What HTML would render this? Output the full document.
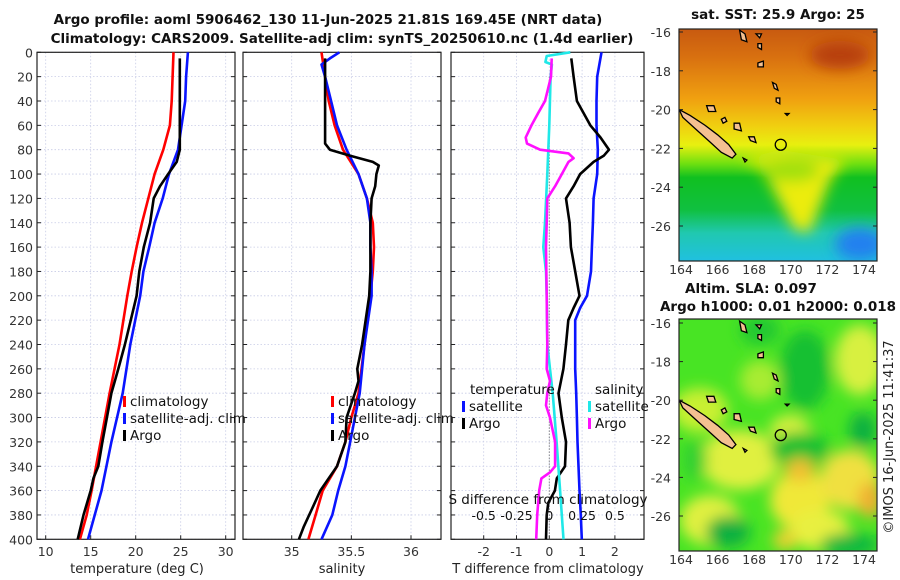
<!DOCTYPE html>
<html><head><meta charset="utf-8"><style>
body{margin:0;background:#fff}
svg{display:block;font-family:"DejaVu Sans","Liberation Sans",sans-serif}
</style></head><body>
<svg id="fig" width="900" height="580" viewBox="0 0 900 580">
<defs>
<filter id="blur6"><feGaussianBlur stdDeviation="7"/></filter>
<clipPath id="clipTop"><rect x="679" y="29" width="198" height="232"/></clipPath>
<clipPath id="clipBot"><rect x="679" y="319" width="198" height="232"/></clipPath>
<linearGradient id="sstGrad" x1="0" y1="0" x2="0" y2="1">
<stop offset="0" stop-color="#c85a10"/><stop offset="0.12" stop-color="#d87010"/>
<stop offset="0.3" stop-color="#f0a010"/><stop offset="0.42" stop-color="#f0d010"/>
<stop offset="0.5" stop-color="#e8f010"/><stop offset="0.58" stop-color="#70e010"/>
<stop offset="0.64" stop-color="#10c020"/><stop offset="0.78" stop-color="#10c040"/>
<stop offset="0.88" stop-color="#20c8b0"/><stop offset="1" stop-color="#20c0e0"/>
</linearGradient>
</defs>
<g font-weight="bold" font-size="13.5" text-anchor="middle" fill="#111">
<text x="328" y="24">Argo profile: aoml 5906462_130 11-Jun-2025 21.81S 169.45E (NRT data)</text>
<text x="342" y="43">Climatology: CARS2009. Satellite-adj clim: synTS_20250610.nc (1.4d earlier)</text>
</g>
<g id="panels"></g>
<g id="maps"></g>
<text transform="translate(893,437) rotate(-90)" text-anchor="middle" font-size="13" fill="#222">©IMOS 16-Jun-2025 11:41:37</text>
</svg>
<script>
// ---------- DATA ----------
const depthTicks = [0,20,40,60,80,100,120,140,160,180,200,220,240,260,280,300,320,340,360,380,400];
const tempTicks = [10,15,20,25,30];
const salTicks = [35,35.5,36];
const tdiffTicks = [-2,-1,0,1,2];
const sdiffTicks = [-0.5,-0.25,0,0.25,0.5];
const sdiffTickLabels = ['-0.5','-0.25','0','0.25','0.5'];

const climTdepth = [0,40,60,80,100,120,140,160,180,200,240,280,320,360,380,400];
const climT = [24.2,24.0,23.8,23.07,22.1,21.4,20.7,20.1,19.55,19.07,18.2,17.1,16.1,15.1,14.55,13.8];
const satTdepth = [0,20,40,60,80,100,120,140,160,180,200,240,280,320,360,400];
const satT = [25.8,25.6,25.5,25.1,24.7,23.7,23.0,22.1,21.5,20.85,20.5,19.4,18.55,17.3,16.2,14.7];
const argoTdepth = [5,40,60,80,90,100,110,120,140,160,180,200,240,260,280,300,320,340,350,360,380,400];
const argoT = [24.9,24.9,24.9,24.9,24.55,23.6,22.7,22.0,21.6,20.9,20.4,20.1,18.8,18.07,17.3,16.8,16.3,15.85,15.3,15.0,14.2,13.55];

const climSdepth = [0,20,40,60,80,100,120,140,160,180,200,240,280,300,320,340,360,380,400];
const climS = [35.25,35.28,35.31,35.36,35.43,35.56,35.63,35.68,35.69,35.68,35.66,35.61,35.56,35.50,35.45,35.38,35.26,35.2,35.14];
const satSdepth = [0,5,10,20,40,60,80,100,120,140,160,180,200,240,280,300,320,340,360,380,400];
const satS = [35.40,35.32,35.25,35.28,35.33,35.38,35.46,35.56,35.63,35.66,35.66,35.67,35.67,35.61,35.57,35.53,35.49,35.45,35.39,35.34,35.25];
const argoSdepth = [5,20,40,60,75,80,85,90,93,100,110,120,140,180,200,240,260,270,280,300,320,340,350,360,375,390,400];
const argoS = [35.28,35.28,35.28,35.28,35.28,35.32,35.49,35.68,35.73,35.71,35.70,35.67,35.66,35.66,35.65,35.59,35.55,35.56,35.53,35.46,35.45,35.38,35.31,35.24,35.17,35.1,35.06];

const satTdiffDepth = [0,20,40,60,80,100,120,140,160,180,200,210,220,240,260,280,300,320,340,360,380,400];
const satTdiff = [1.59,1.46,1.44,1.44,1.48,1.46,1.35,1.33,1.30,1.27,1.15,0.94,0.79,0.79,0.79,0.82,0.84,0.86,0.89,0.92,0.96,0.99];
const argoTdiffDepth = [5,20,40,60,70,80,85,90,100,110,120,140,160,180,200,210,220,240,260,280,300,320,340,350,360,370,380,400];
const argoTdiff = [0.67,0.74,0.84,1.25,1.56,1.82,1.66,1.35,0.94,0.74,0.51,0.62,0.66,0.79,0.92,0.74,0.58,0.51,0.43,0.28,0.38,0.51,0.48,0.23,0.17,-0.03,-0.08,-0.1];
const satSdiffDepth = [0,3,8,10,20,60,100,140,160,180,200,240,280,320,360,400];
const satSdiff = [0.16,-0.02,-0.03,0.02,0.01,0,-0.015,-0.033,-0.046,-0.025,-0.02,-0.015,0.026,0.056,0.082,0.108];
const argoSdiffDepth = [5,20,40,50,60,70,75,80,83,87,90,100,110,120,140,160,200,240,260,270,280,290,300,320,340,345,350,360,380,400];
const argoSdiff = [0.018,0.013,-0.033,-0.085,-0.136,-0.18,-0.17,-0.07,0.146,0.185,0.146,0.095,0.044,-0.015,-0.02,-0.025,-0.02,-0.015,-0.02,0.005,-0.015,-0.025,0.005,0.044,0.044,0.005,-0.06,-0.077,-0.092,-0.1];

const lonTicks = [164,166,168,170,172,174];
const latTicks = [-16,-18,-20,-22,-24,-26];
const argoLon = 169.45, argoLat = -21.81;

// ---------- HELPERS ----------
const NS='http://www.w3.org/2000/svg';
function mk(tag, attrs, parent){const e=document.createElementNS(NS,tag);for(const k in attrs)e.setAttribute(k,attrs[k]);parent.appendChild(e);return e;}
const Y0=52.3, YS=1.2175;
const yD = d => Y0 + d*YS;
const panelsG=document.getElementById('panels');

function panel(name,x0,x1,xf,ticks,tickLabels){
  const g=mk('g',{},panelsG);
  
  
  depthTicks.forEach(d=>{
    const l=mk('line',{x1:x0,x2:x1,y1:yD(d),y2:yD(d),stroke:'#c8cce6','stroke-width':0.8,'stroke-dasharray':'1.5,2'},g);
    
    
  });
  ticks.forEach((t,i)=>{
    const x=xf(t);
    const l=mk('line',{x1:x,x2:x,y1:yD(0),y2:yD(400),stroke:'#c8cce6','stroke-width':0.8,'stroke-dasharray':'1.5,2'},g);
    
    
    const tk=mk('line',{x1:x,x2:x,y1:yD(400),y2:yD(400)-4,stroke:'#222'},g);
    
    
    const tx=mk('text',{x:x,y:556,'text-anchor':'middle','font-size':12.5,fill:'#333'},g);
    tx.textContent=tickLabels?tickLabels[i]:String(t);
    
    
  });
  depthTicks.forEach(d=>{
    const t1=mk('line',{x1:x0,x2:x0+4,y1:yD(d),y2:yD(d),stroke:'#222'},g);
    
    
    const t2=mk('line',{x1:x1-4,x2:x1,y1:yD(d),y2:yD(d),stroke:'#222'},g);
    
    
  });
  const fr=mk('rect',{x:x0,y:yD(0),width:x1-x0,height:yD(400)-yD(0),fill:'none',stroke:'#222','stroke-width':1.2},g);
  
  
  return g;
}
function series(g,name,depths,vals,xf,color){
  const pts=depths.map((d,i)=>xf(vals[i]).toFixed(1)+','+yD(d).toFixed(1)).join(' ');
  const p=mk('polyline',{points:pts,fill:'none',stroke:color,'stroke-width':2.6,'stroke-linejoin':'round'},g);
  
  
}
function legend(g,name,x,y,items){
  const lg=mk('g',{},g);
  
  
  items.forEach((it,i)=>{
    const yy=y+i*17;
    mk('rect',{x:x,y:yy-10,width:3,height:11,fill:it[1]},lg);
    const t=mk('text',{x:x+7,y:yy,'font-size':13.5,fill:'#111'},lg);
    t.textContent=it[0];
    
    
  });
}

depthTicks.forEach(d=>{
  const t=mk('text',{x:33,y:yD(d)+5,'text-anchor':'end','font-size':12.5,fill:'#333'},panelsG);
  t.textContent=String(d);
  
  
});

// Panel 1 temperature
const xT = v => 45.7 + (v-10)*9.0;
const g1=panel('temperature-panel',37,235,xT,tempTicks);
series(g1,'climatology-temperature-line',climTdepth,climT,xT,'#ff0000');
series(g1,'satellite-temperature-line',satTdepth,satT,xT,'#0a14ff');
series(g1,'argo-temperature-line',argoTdepth,argoT,xT,'#000');
legend(g1,'temperature-legend',123,406,[['climatology','#ff0000'],['satellite-adj. clim','#0a14ff'],['Argo','#000']]);
let tt=mk('text',{x:137,y:573,'text-anchor':'middle','font-size':13,fill:'#222'},g1);tt.textContent='temperature (deg C)';



// Panel 2 salinity
const xS = v => 291.7 + (v-35)*119.3;
const g2=panel('salinity-panel',243,441,xS,salTicks);
series(g2,'climatology-salinity-line',climSdepth,climS,xS,'#ff0000');
series(g2,'satellite-salinity-line',satSdepth,satS,xS,'#0a14ff');
series(g2,'argo-salinity-line',argoSdepth,argoS,xS,'#000');
legend(g2,'salinity-legend',331,406,[['climatology','#ff0000'],['satellite-adj. clim','#0a14ff'],['Argo','#000']]);
tt=mk('text',{x:342,y:573,'text-anchor':'middle','font-size':13,fill:'#222'},g2);tt.textContent='salinity';



// Panel 3 differences
const xTd = v => 549.3 + v*32.8;
const xSd = v => 549.3 + v*131.2;
const g3=panel('difference-panel',451,644,xTd,tdiffTicks);
const zl=mk('line',{x1:xTd(0),x2:xTd(0),y1:yD(20),y2:yD(400),stroke:'#555','stroke-width':1,'stroke-dasharray':'1,2'},g3);


series(g3,'satellite-temperature-diff-line',satTdiffDepth,satTdiff,xTd,'#0a14ff');
series(g3,'argo-temperature-diff-line',argoTdiffDepth,argoTdiff,xTd,'#000');
series(g3,'satellite-salinity-diff-line',satSdiffDepth,satSdiff,xSd,'#20e8e8');
series(g3,'argo-salinity-diff-line',argoSdiffDepth,argoSdiff,xSd,'#ff10ff');
let lt=mk('text',{x:470,y:394,'font-size':13.5,fill:'#111'},g3);lt.textContent='temperature';


lt=mk('text',{x:595,y:394,'font-size':13.5,fill:'#111'},g3);lt.textContent='salinity';


legend(g3,'temperature-diff-legend',462,411,[['satellite','#0a14ff'],['Argo','#000']]);
legend(g3,'salinity-diff-legend',588,411,[['satellite','#20e8e8'],['Argo','#ff10ff']]);
lt=mk('text',{x:548,y:504,'text-anchor':'middle','font-size':13.5,fill:'#111'},g3);lt.textContent='S difference from climatology';


sdiffTicks.forEach((s,i)=>{
  const t=mk('text',{x:xSd(s),y:520,'text-anchor':'middle','font-size':12.5,fill:'#111'},g3);
  t.textContent=sdiffTickLabels[i];
  
  
});
lt=mk('text',{x:548,y:573,'text-anchor':'middle','font-size':13,fill:'#222'},g3);lt.textContent='T difference from climatology';



// ---------- MAPS ----------
const mapsG=document.getElementById('maps');
const lx = lon => 681 + (lon-164)*18.3;
const islands=[
 [[163.9,-20.0],[164.5,-20.3],[165.3,-20.8],[166.0,-21.3],[166.6,-21.8],[167.0,-22.3],[166.8,-22.5],[166.2,-22.2],[165.5,-21.6],[164.8,-21.0],[164.1,-20.4]],
 [[165.4,-19.8],[165.8,-19.8],[165.9,-20.1],[165.5,-20.1]],
 [[166.9,-20.7],[167.2,-20.7],[167.3,-21.1],[166.9,-21.0]],
 [[167.7,-21.4],[168.0,-21.4],[168.1,-21.7],[167.8,-21.6]],
 [[166.2,-20.5],[166.4,-20.4],[166.5,-20.6],[166.3,-20.7]],
 [[167.2,-15.9],[167.5,-16.1],[167.6,-16.5],[167.3,-16.4]],
 [[168.1,-16.1],[168.4,-16.1],[168.3,-16.3]],
 [[168.2,-16.6],[168.4,-16.6],[168.4,-16.9],[168.2,-16.8]],
 [[168.2,-17.6],[168.5,-17.5],[168.5,-17.8],[168.2,-17.8]],
 [[169.0,-18.6],[169.2,-18.7],[169.3,-19.0],[169.1,-18.9]],
 [[169.2,-19.4],[169.4,-19.4],[169.4,-19.7],[169.2,-19.6]],
 [[169.7,-20.2],[169.9,-20.2],[169.8,-20.3]],
 [[167.4,-22.5],[167.6,-22.6],[167.5,-22.7]]
];
function map(name,top,ly,clipId,fillFn,titles){
  const g=mk('g',{},mapsG);
  
  
  const inner=mk('g',{'clip-path':'url(#'+clipId+')'},g);
  fillFn(inner,top);
  islands.forEach(poly=>{
    const pts=poly.map(p=>lx(p[0]).toFixed(1)+','+ly(p[1]).toFixed(1)).join(' ');
    const p=mk('polygon',{points:pts,fill:'#f4c090',stroke:'#000','stroke-width':1.3},inner);
    
    
  });
  const c=mk('circle',{cx:lx(argoLon),cy:ly(argoLat),r:5.5,fill:'none',stroke:'#000','stroke-width':1.3},inner);
  
  
  const fr=mk('rect',{x:679,y:top,width:198,height:232,fill:'none',stroke:'#222','stroke-width':1.2},g);
  
  
  latTicks.forEach(la=>{
    const t=mk('text',{x:671,y:ly(la)+5,'text-anchor':'end','font-size':12.5,fill:'#333'},g);
    t.textContent=String(la);
    
    
    mk('line',{x1:679,x2:683,y1:ly(la),y2:ly(la),stroke:'#222'},g);
    mk('line',{x1:873,x2:877,y1:ly(la),y2:ly(la),stroke:'#222'},g);
  });
  lonTicks.forEach(lo=>{
    const t=mk('text',{x:lx(lo),y:top+245,'text-anchor':'middle','font-size':12.5,fill:'#333'},g);
    t.textContent=String(lo);
    
    
  });
  titles.forEach(tl=>{
    const t=mk('text',{x:tl[1],y:tl[2],'text-anchor':'middle','font-size':13.5,'font-weight':'bold',fill:'#111'},g);
    t.textContent=tl[0];
    
    
  });
}
const lyTop = la => 32 + (-16-la)*19.4;
const lyBot = la => 323 + (-16-la)*19.3;
map('sst-map',29,lyTop,'clipTop',(g,top)=>{
  mk('rect',{x:679,y:top,width:198,height:232,fill:'url(#sstGrad)'},g);
  const b=mk('g',{filter:'url(#blur6)'},g);
  mk('path',{d:'M740,160 L760,165 L795,230 L810,232 L830,180 L845,160 L780,150 Z',fill:'#ecec10'},b);
  mk('ellipse',{cx:790,cy:170,rx:30,ry:12,fill:'#a0e010'},b);
  mk('ellipse',{cx:860,cy:244,rx:25,ry:16,fill:'#2080f0'},b);
  mk('ellipse',{cx:840,cy:55,rx:30,ry:14,fill:'#b84010'},b);
},[['sat. SST: 25.9 Argo: 25',778,19]]);
map('sla-map',319,lyBot,'clipBot',(g,top)=>{
  mk('rect',{x:679,y:top,width:198,height:232,fill:'#48e424'},g);
  const b=mk('g',{filter:'url(#blur6)'},g);
  [[700,410,28,22,'#c8f030'],[740,460,40,30,'#e0f040'],[800,500,30,30,'#f0e838'],[850,480,30,30,'#f0e040'],[860,360,25,35,'#d8f040'],[710,520,30,25,'#e0f040'],[820,530,30,20,'#e8f040'],[760,380,20,20,'#a8ec30'],[790,430,20,15,'#d8f040']].forEach(e=>mk('ellipse',{cx:e[0],cy:e[1],rx:e[2],ry:e[3],fill:e[4]},b));
  [[805,370,25,40,'#18c030'],[800,450,30,18,'#18c030'],[863,430,14,18,'#10b040'],[728,532,22,16,'#10b040'],[850,545,30,12,'#10b840'],[760,330,20,15,'#20c830'],[695,460,12,20,'#30d030']].forEach(e=>mk('ellipse',{cx:e[0],cy:e[1],rx:e[2],ry:e[3],fill:e[4]},b));
  [[800,470,15,12,'#f0c030'],[870,500,12,18,'#f0b030'],[785,540,12,10,'#f0d030']].forEach(e=>mk('ellipse',{cx:e[0],cy:e[1],rx:e[2],ry:e[3],fill:e[4]},b));
},[['Altim. SLA: 0.097',751,293],['Argo h1000: 0.01 h2000: 0.018',778,311]]);
</script>
</body></html>
